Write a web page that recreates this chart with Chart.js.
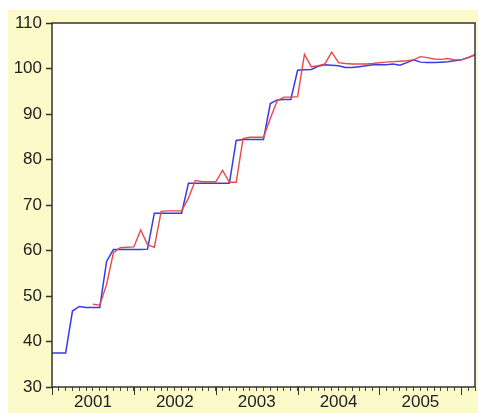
<!DOCTYPE html>
<html>
<head>
<meta charset="utf-8">
<script src="https://cdn.jsdelivr.net/npm/chart.js@4"></script>
<style>
    html, body { margin: 0; padding: 0; background: #ffffff; }
    #wrap { position: relative; width: 478px; height: 413px; }
    #bg { position: absolute; left: 8px; top: 10px; right: 0; bottom: 0; background: #fbfac8; }
    #chart { position: absolute; left: 0; top: 0; }
</style>
</head>
<body>
<div id="wrap">
    <div id="bg"></div>
    <canvas id="chart" width="478" height="413"></canvas>
</div>
<script>
// monthly observations, 2001M01 .. 2006M03
const years = ['2001', '2002', '2003', '2004', '2005'];
const firstYear = 2001;
const nMonths = 63;

const blueSeries = [
    37.5, 37.5, 37.5, 46.7, 47.7, 47.5, 47.5, 47.5, 57.6, 60.2, 60.2, 60.2,
    60.2, 60.2, 60.3, 68.2, 68.2, 68.2, 68.2, 68.2, 74.8, 74.8, 74.8, 74.8,
    74.8, 74.8, 74.8, 84.2, 84.4, 84.4, 84.4, 84.4, 92.3, 93.1, 93.2, 93.2,
    99.6, 99.7, 99.8, 100.5, 100.8, 100.7, 100.6, 100.2, 100.2, 100.4, 100.6, 100.8,
    100.9, 100.8, 101.0, 100.7, 101.3, 101.9, 101.4, 101.3, 101.3, 101.4, 101.5, 101.7,
    101.9, 102.4, 103.0
];

const redSeries = [
    null, null, null, null, null, null, 48.2, 48.0, 52.5, 59.5, 60.6, 60.7,
    60.8, 64.5, 61.3, 60.7, 68.6, 68.7, 68.7, 68.7, 71.5, 75.4, 75.1, 75.1,
    75.1, 77.6, 75.0, 75.0, 84.6, 84.9, 84.9, 84.9, 89.0, 92.9, 93.7, 93.7,
    93.8, 103.1, 100.4, 100.6, 101.0, 103.6, 101.3, 101.1, 101.0, 101.0, 101.0, 101.1,
    101.3, 101.4, 101.5, 101.6, 101.7, 101.9, 102.6, 102.4, 102.1, 102.0, 102.2, 101.9,
    101.9, 102.4, 103.1
];

const toPoints = arr => arr.map((v, i) => ({ x: i, y: v }));

// white plot area + frame, plus longer year ticks on the x axis
const framePlugin = {
    id: 'frame',
    beforeDraw(chart) {
        const a = chart.chartArea, ctx = chart.ctx;
        ctx.save();
        ctx.fillStyle = '#ffffff';
        ctx.fillRect(a.left, a.top, a.right - a.left, a.bottom - a.top);
        ctx.restore();
    },
    afterDraw(chart) {
        const a = chart.chartArea, ctx = chart.ctx;
        const xs = chart.scales.x;
        ctx.save();
        ctx.strokeStyle = '#333333';
        ctx.lineWidth = 1.5;
        ctx.strokeRect(a.left, a.top, a.right - a.left, a.bottom - a.top);
        ctx.lineWidth = 1;
        for (let i = 0; i < nMonths; i += 12) {
            const px = Math.round(xs.getPixelForValue(i)) + 0.5;
            ctx.beginPath();
            ctx.moveTo(px, a.bottom);
            ctx.lineTo(px, a.bottom + 8);
            ctx.stroke();
        }
        ctx.restore();
    }
};

const ctx = document.getElementById('chart').getContext('2d');
new Chart(ctx, {
    type: 'line',
    data: {
        datasets: [
            {
                label: 'red',
                data: toPoints(redSeries),
                borderColor: 'rgb(236,72,72)',
                borderWidth: 1.4,
                pointRadius: 0,
                tension: 0,
                order: 0
            },
            {
                label: 'blue',
                data: toPoints(blueSeries),
                borderColor: 'rgb(58,58,232)',
                borderWidth: 1.5,
                pointRadius: 0,
                tension: 0,
                order: 1
            }
        ]
    },
    options: {
        responsive: false,
        animation: false,
        layout: { padding: { top: 23, right: 3, left: 0, bottom: 0 } },
        plugins: {
            legend: { display: false },
            tooltip: { enabled: false }
        },
        scales: {
            x: {
                type: 'linear',
                min: 0,
                max: nMonths - 1,
                afterFit: s => { s.height = 26; },
                afterBuildTicks: s => {
                    s.ticks = [];
                    for (let i = 0; i < nMonths; i++) s.ticks.push({ value: i });
                },
                grid: { drawOnChartArea: false, tickLength: 4, tickColor: '#444', tickWidth: 1 },
                border: { display: false },
                ticks: {
                    autoSkip: false,
                    maxRotation: 0,
                    padding: 1,
                    color: '#222',
                    font: { family: 'Arial, "Liberation Sans", sans-serif', size: 17 },
                    callback: v => {
                        if (v % 12 === 6) {
                            const y = firstYear + Math.floor(v / 12);
                            return years.includes(String(y)) ? String(y) : '';
                        }
                        return '';
                    }
                }
            },
            y: {
                min: 30,
                max: 110,
                afterFit: s => { s.width = 52; },
                grid: { drawOnChartArea: false, tickLength: 6, tickColor: '#333', tickWidth: 1.5 },
                border: { display: false },
                ticks: {
                    stepSize: 10,
                    padding: 4,
                    color: '#222',
                    font: { family: 'Arial, "Liberation Sans", sans-serif', size: 17 }
                }
            }
        }
    },
    plugins: [framePlugin]
});
</script>
</body>
</html>
